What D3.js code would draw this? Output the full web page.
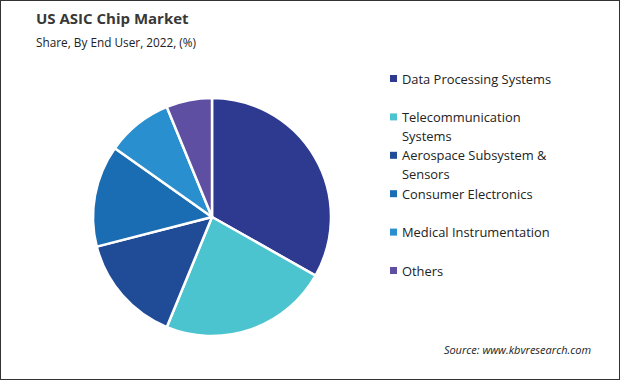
<!DOCTYPE html>
<html lang="en">
<head>
<meta charset="utf-8">
<title>US ASIC Chip Market</title>
<script src="https://cdn.jsdelivr.net/npm/d3@7"></script>
<style>
  body { margin: 0; background: #fff; }
  text { font-family: "Open Sans", "DejaVu Sans", sans-serif; }
</style>
</head>
<body>
<script>
// data
var categories = ["Data Processing Systems", "Telecommunication Systems", "Aerospace Subsystem & Sensors",
                  "Consumer Electronics", "Medical Instrumentation", "Others"];
var shares = [33.2, 23.0, 14.8, 13.8, 9.0, 6.2];
var legendLines = [["Data Processing Systems"], ["Telecommunication", "Systems"], ["Aerospace Subsystem &", "Sensors"],
                   ["Consumer Electronics"], ["Medical Instrumentation"], ["Others"]];
var colors = ["#2e3990", "#4cc4cf", "#1f4b97", "#1b6db3", "#2a8fcf", "#5e4fa2"];

var w = 620, h = 380;
var svg = d3.select("body").append("svg").attr("width", w).attr("height", h);

// frame
svg.append("rect").attr("x", 0.5).attr("y", 0.5).attr("width", w - 1).attr("height", h - 1)
  .attr("fill", "#fff").attr("stroke", "#333").attr("stroke-width", 1);

// titles
svg.append("text").attr("x", 36).attr("y", 24).text("US ASIC Chip Market")
  .attr("font-size", "15px").attr("font-weight", "bold").attr("fill", "#383838");
svg.append("text").attr("x", 36).attr("y", 47).text("Share, By End User, 2022, (%)")
  .attr("font-size", "11.8px").attr("fill", "#222");

// pie
var pie = d3.pie().sort(null).value(function(d) { return d; });
var arc = d3.arc().innerRadius(0).outerRadius(119);
var g = svg.append("g").attr("transform", "translate(212,217)");
g.selectAll("path")
  .data(pie(shares))
  .enter()
  .append("path")
  .attr("d", arc)
  .attr("fill", function(d, i) { return colors[i]; })
  .attr("stroke", "#fff")
  .attr("stroke-width", 2.5)
  .attr("stroke-linejoin", "round");

// legend
var legendY = d3.scalePoint().domain(categories).range([79, 271]);
var lg = svg.selectAll(".leg")
  .data(categories)
  .enter()
  .append("g")
  .attr("class", "leg")
  .attr("transform", function(d) { return "translate(390," + legendY(d) + ")"; });
lg.append("rect").attr("x", 0).attr("y", -4).attr("width", 7).attr("height", 7)
  .attr("fill", function(d, i) { return colors[i]; });
lg.append("text")
  .attr("x", 12)
  .attr("y", 4.5)
  .attr("font-size", "12.9px")
  .attr("fill", "#222")
  .each(function(d, i) {
    var t = d3.select(this);
    legendLines[i].forEach(function(line, j) {
      t.append("tspan").attr("x", 12).attr("dy", j === 0 ? 0 : 19).text(line);
    });
  });

// source
svg.append("text").attr("x", 591).attr("y", 354).attr("text-anchor", "end")
  .text("Source: www.kbvresearch.com")
  .attr("font-size", "11px").attr("font-style", "italic").attr("fill", "#222");
</script>
</body>
</html>
